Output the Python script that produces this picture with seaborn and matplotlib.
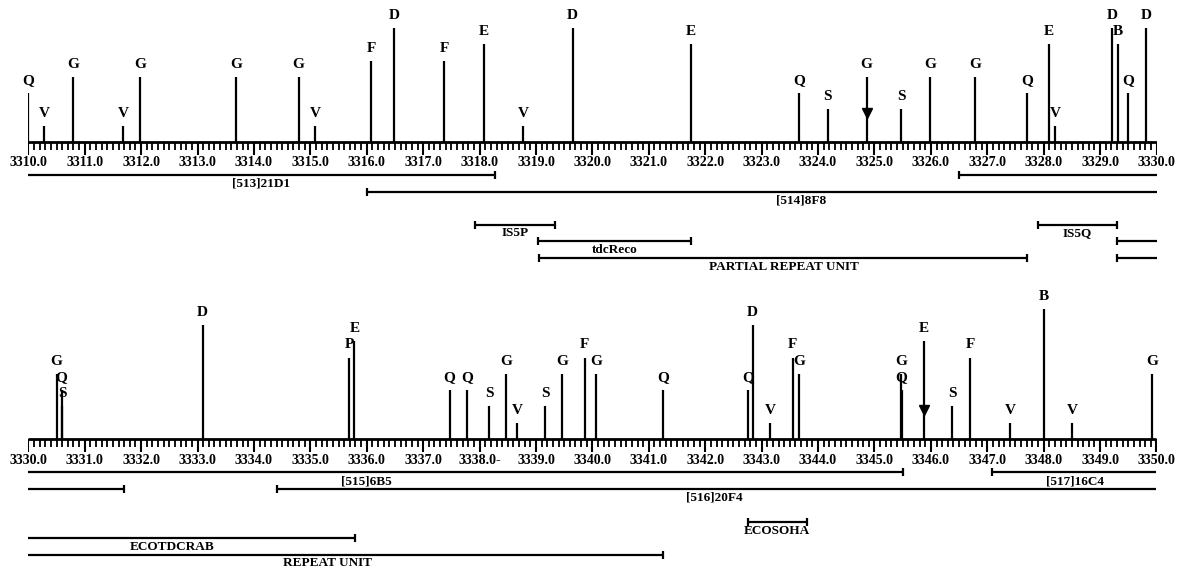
import numpy as np
import matplotlib
matplotlib.use("Agg")
import matplotlib.pyplot as plt
import seaborn as sns

# restriction sites, upper strip (kb)
top_pos = [3310.0, 3310.28, 3310.79, 3311.68, 3311.98, 3313.68, 3314.79, 3315.08,
           3316.08, 3316.49, 3317.37, 3318.07, 3318.77, 3319.65, 3321.75, 3323.66,
           3324.17, 3324.86, 3325.47, 3325.99, 3326.79, 3327.70, 3328.10, 3328.20,
           3329.21, 3329.31, 3329.50, 3329.81]
top_enz = ["Q", "V", "G", "V", "G", "G", "G", "V", "F", "D", "F", "E", "V", "D",
           "E", "Q", "S", "G", "S", "G", "G", "Q", "E", "V", "D", "B", "Q", "D"]
top_level = [3, 1, 4, 1, 4, 4, 4, 1, 5, 7, 5, 6, 1, 7, 6, 3, 2, 4, 2, 4, 4, 3,
             6, 1, 7, 6, 3, 7]
top_arrows = [3324.86]

# restriction sites, lower strip (kb)
bot_pos = [3330.50, 3330.59, 3330.60, 3333.09, 3335.69, 3335.78, 3337.47, 3337.78,
           3338.17, 3338.47, 3338.67, 3339.16, 3339.46, 3339.86, 3340.06, 3341.25,
           3342.76, 3342.84, 3343.15, 3343.55, 3343.66, 3345.47, 3345.48, 3345.88,
           3346.38, 3346.70, 3347.41, 3348.01, 3348.51, 3349.92]
bot_enz = ["G", "Q", "S", "D", "P", "E", "Q", "Q", "S", "G", "V", "S", "G", "F",
           "G", "Q", "Q", "D", "V", "F", "G", "G", "Q", "E", "S", "F", "V", "B",
           "V", "G"]
bot_level = [4, 3, 2, 7, 5, 6, 3, 3, 2, 4, 1, 2, 4, 5, 4, 3, 3, 7, 1, 5, 4, 4,
             3, 6, 2, 5, 1, 8, 1, 4]
bot_arrows = [3345.88]

# clones / features under each strip
top_int_start = [3310.0, 3326.49, 3316.0, 3317.92, 3319.03, 3319.05, 3327.90, 3329.30, 3329.30]
top_int_end = [3318.27, 3330.0, 3330.0, 3319.33, 3321.74, 3327.70, 3329.30, 3330.0, 3330.0]
top_int_row = [2, 2, 3, 5, 6, 7, 5, 6, 7]
top_int_label = ["[513]21D1", "", "[514]8F8", "IS5P", "tdcReco",
                 "PARTIAL REPEAT UNIT", "IS5Q", "", ""]
top_int_label_x = [3314.13, np.nan, 3323.7, 3318.63, 3320.4, 3323.4, 3328.6, np.nan, np.nan]

bot_int_start = [3330.0, 3347.09, 3334.40, 3330.0, 3342.75, 3330.0, 3330.0]
bot_int_end = [3345.50, 3350.0, 3350.0, 3331.70, 3343.80, 3335.80, 3341.25]
bot_int_row = [2, 2, 3, 3, 5, 6, 7]
bot_int_label = ["[515]6B5", "[517]16C4", "[516]20F4", "", "ECOSOHA",
                 "ECOTDCRAB", "REPEAT UNIT"]
bot_int_label_x = [3336.0, 3348.56, 3342.16, np.nan, 3343.27, 3332.55, 3335.3]

top_ticklabels = ["%.1f" % v for v in np.arange(3310, 3331)]
bot_ticklabels = ["%.1f" % v for v in np.arange(3330, 3351)]
bot_ticklabels[8] = "3338.0-"

sns.set_theme(style="white")
plt.rcParams["font.family"] = ["Liberation Serif", "DejaVu Serif"]
plt.rcParams["font.weight"] = "bold"
plt.rcParams["text.color"] = "black"

LEV = 16.3   # px per site level
ROW = 16.5   # px per feature row
W, H = 1182, 572

fig = plt.figure(figsize=(W / 100, H / 100), dpi=100)
left = 28.3 / W
width = 1128.2 / W


def draw_strip(ax, x0, pos, enz, level, arrows, st, en, rows, labels, label_x, ticklabels):
    x1 = x0 + 20
    # scale bar
    ax.hlines(0, x0, x1, color="black", lw=2.0)
    minor = np.round(np.arange(x0, x1 + 0.001, 0.1), 2)
    major = np.arange(x0, x1 + 1)
    ax.vlines(minor, -8, 0, color="black", lw=1.3)
    ax.vlines(major, -13, 0, color="black", lw=1.5)
    for xv, lab in zip(major, ticklabels):
        ax.text(xv, -21, lab, ha="center", va="center", fontsize=10,
                fontweight="bold", color="black", clip_on=False)
    # sites
    heights = np.array(level) * LEV
    ax.vlines(pos, 0, heights, color="black", lw=1.6)
    for xv, e, h in zip(pos, enz, heights):
        ax.text(xv, h + 12.5, e, ha="center", va="center", fontsize=11,
                fontweight="bold", color="black", clip_on=False)
    for xv in arrows:
        ax.plot([xv], [29], marker="v", color="black", ms=7, clip_on=False)
    # features
    for s, e, r, lab, lx in zip(st, en, rows, labels, label_x):
        y = -r * ROW
        ax.hlines(y, s, e, color="black", lw=1.6)
        for end in (s, e):
            if x0 < end < x1:
                ax.vlines(end, y - 4, y + 4, color="black", lw=1.6)
        if lab:
            ax.text(lx, y - 9, lab, ha="center", va="center", fontsize=9.5,
                    fontweight="bold", color="black", clip_on=False)
    ax.set_xlim(x0, x1)
    ax.axis("off")


ax_top = fig.add_axes([left, 0.5, width, 0.5])
ax_top.set_ylim(-144, 142)
draw_strip(ax_top, 3310, top_pos, top_enz, top_level, top_arrows,
           top_int_start, top_int_end, top_int_row, top_int_label,
           top_int_label_x, top_ticklabels)

ax_bot = fig.add_axes([left, 0.0, width, 0.5])
ax_bot.set_ylim(-133, 153)
draw_strip(ax_bot, 3330, bot_pos, bot_enz, bot_level, bot_arrows,
           bot_int_start, bot_int_end, bot_int_row, bot_int_label,
           bot_int_label_x, bot_ticklabels)

fig.savefig("out.png", dpi=100, facecolor="white")
